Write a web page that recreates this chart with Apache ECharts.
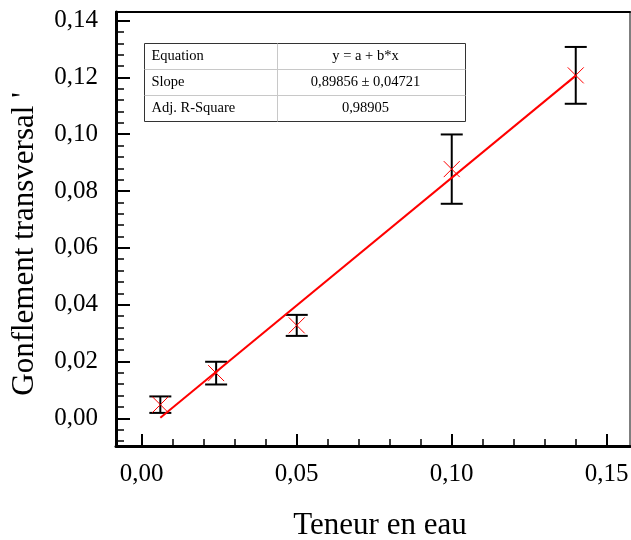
<!DOCTYPE html>
<html><head><meta charset="utf-8">
<script src="https://cdn.jsdelivr.net/npm/echarts@6/dist/echarts.min.js"></script>
<style>html,body{margin:0;padding:0;background:#fff}#c{width:631px;height:540px}</style>
</head><body><div id="c"></div>
<script>
// ---- data ----
const xValues = [0.006, 0.024, 0.05, 0.10, 0.14];
const yValues = [0.0048, 0.0159, 0.0327, 0.0877, 0.1207];
const yErrors = [0.0029, 0.0040, 0.0037, 0.0122, 0.0100];
const fitX = [0.006, 0.14];
const fitY = [0.0002, 0.1206];
const xMajorTicks = [0, 0.05, 0.10, 0.15];
const xMinorTicks = [0.01, 0.02, 0.03, 0.04, 0.06, 0.07, 0.08, 0.09, 0.11, 0.12, 0.13, 0.14];
const yMajorTicks = [0, 0.02, 0.04, 0.06, 0.08, 0.10, 0.12, 0.14];
const yMinorTicks = [-0.008, -0.004, 0.004, 0.008, 0.012, 0.016, 0.024, 0.028, 0.032, 0.036,
  0.044, 0.048, 0.052, 0.056, 0.064, 0.068, 0.072, 0.076, 0.084, 0.088, 0.092, 0.096,
  0.104, 0.108, 0.112, 0.116, 0.124, 0.128, 0.132, 0.136];
const tableRows = [['Equation', 'y = a + b*x'], ['Slope', '0,89856 \u00b1 0,04721'], ['Adj. R-Square', '0,98905']];
const xTitle = 'Teneur en eau';
const yTitle = "Gonflement transversal '";

// ---- chart ----
const FONT = '"Liberation Serif", "Times New Roman", serif';
const X_MIN = -0.0083, X_MAX = 0.1575, Y_MIN = -0.00975, Y_MAX = 0.143;
const fmt = v => v.toFixed(2).replace('.', ',');

const chart = echarts.init(document.getElementById('c'), null, {renderer: 'canvas'});

const pointData = xValues.map((x, i) => [x, yValues[i], yErrors[i]]);

function baseX(extra) {
  return Object.assign({type: 'value', min: X_MIN, max: X_MAX, gridIndex: 0,
    splitLine: {show: false}, axisLabel: {show: false}, axisTick: {show: false},
    axisLine: {show: false, onZero: false}}, extra);
}
function baseY(extra) {
  return Object.assign({type: 'value', min: Y_MIN, max: Y_MAX, gridIndex: 0,
    splitLine: {show: false}, axisLabel: {show: false}, axisTick: {show: false},
    axisLine: {show: false, onZero: false}}, extra);
}

const tableLeft = 142, tableTop = 41, tableW = 321, rowH = 26, col1 = 133;
const tableChildren = [
  {type: 'rect', shape: {x: 0, y: 0, width: tableW, height: rowH * 3}, style: {fill: '#fff', stroke: '#333', lineWidth: 1}},
  {type: 'line', shape: {x1: 0, y1: rowH, x2: tableW, y2: rowH}, style: {stroke: '#c8c8c8', lineWidth: 1}},
  {type: 'line', shape: {x1: 0, y1: rowH * 2, x2: tableW, y2: rowH * 2}, style: {stroke: '#c8c8c8', lineWidth: 1}},
  {type: 'line', shape: {x1: col1, y1: 0, x2: col1, y2: rowH * 3}, style: {stroke: '#c8c8c8', lineWidth: 1}}
];
tableRows.forEach((r, i) => {
  tableChildren.push({type: 'text', x: 7, y: rowH * i + rowH / 2,
    style: {text: r[0], font: '14.5px ' + FONT, fill: '#000', verticalAlign: 'middle', align: 'left'}});
  tableChildren.push({type: 'text', x: col1 + 88, y: rowH * i + rowH / 2,
    style: {text: r[1], font: '14.5px ' + FONT, fill: '#000', verticalAlign: 'middle', align: 'center'}});
});

chart.setOption({
  animation: false,
  backgroundColor: '#fff',
  grid: {left: 116, right: 1, top: 12, bottom: 94, containLabel: false, outerBoundsMode: 'none'},
  xAxis: [
    baseX({position: 'bottom', name: xTitle, nameLocation: 'middle', nameGap: 64,
      nameTextStyle: {fontFamily: FONT, fontSize: 31, color: '#000', padding: [0, 0, 0, 14]},
      axisLine: {show: true, onZero: false, lineStyle: {color: '#000', width: 3}},
      axisTick: {show: true, inside: true, length: 12, customValues: xMajorTicks, lineStyle: {color: '#000', width: 2}},
      axisLabel: {show: true, customValues: xMajorTicks, formatter: fmt, margin: 16,
        fontFamily: FONT, fontSize: 25, color: '#000'}}),
    baseX({position: 'bottom',
      axisTick: {show: true, inside: true, length: 7, customValues: xMinorTicks, lineStyle: {color: '#000', width: 1.5}}}),
    baseX({position: 'top', axisLine: {show: true, onZero: false, lineStyle: {color: '#000', width: 2}}})
  ],
  yAxis: [
    baseY({position: 'left', name: yTitle, nameLocation: 'middle', nameGap: 76, nameRotate: 90,
      nameTextStyle: {fontFamily: FONT, fontSize: 31, color: '#000', padding: [0, 30, 0, 0]},
      axisLine: {show: true, onZero: false, lineStyle: {color: '#000', width: 3}},
      axisTick: {show: true, inside: true, length: 14, customValues: yMajorTicks, lineStyle: {color: '#000', width: 2}},
      axisLabel: {show: true, customValues: yMajorTicks, formatter: fmt, margin: 18,
        fontFamily: FONT, fontSize: 25, color: '#000'}}),
    baseY({position: 'left',
      axisTick: {show: true, inside: true, length: 8, customValues: yMinorTicks, lineStyle: {color: '#000', width: 1.5}}}),
    baseY({position: 'right', axisLine: {show: true, onZero: false, lineStyle: {color: '#555', width: 1.5}}})
  ],
  graphic: [{type: 'group', left: tableLeft, top: tableTop, z: 100, children: tableChildren}],
  series: [
    {
      type: 'custom', name: 'errors', xAxisIndex: 0, yAxisIndex: 0, z: 2, clip: false,
      data: pointData,
      renderItem(params, api) {
        const x = api.value(0), y = api.value(1), e = api.value(2);
        const t = api.coord([x, y + e]), b = api.coord([x, y - e]);
        const cw = 11;
        const st = {stroke: '#000', lineWidth: 2};
        return {type: 'group', children: [
          {type: 'line', shape: {x1: t[0], y1: t[1], x2: b[0], y2: b[1]}, style: st},
          {type: 'line', shape: {x1: t[0] - cw, y1: t[1], x2: t[0] + cw, y2: t[1]}, style: st},
          {type: 'line', shape: {x1: b[0] - cw, y1: b[1], x2: b[0] + cw, y2: b[1]}, style: st}
        ]};
      }
    },
    {
      type: 'line', name: 'fit', xAxisIndex: 0, yAxisIndex: 0, z: 3,
      data: fitX.map((x, i) => [x, fitY[i]]),
      showSymbol: false, symbol: 'none',
      lineStyle: {color: '#ff0000', width: 2}
    },
    {
      type: 'custom', name: 'points', xAxisIndex: 0, yAxisIndex: 0, z: 4, clip: false,
      data: pointData,
      renderItem(params, api) {
        const p = api.coord([api.value(0), api.value(1)]);
        const h = 8;
        const st = {stroke: '#ff0000', lineWidth: 1};
        return {type: 'group', children: [
          {type: 'line', shape: {x1: p[0] - h, y1: p[1] - h, x2: p[0] + h, y2: p[1] + h}, style: st},
          {type: 'line', shape: {x1: p[0] - h, y1: p[1] + h, x2: p[0] + h, y2: p[1] - h}, style: st}
        ]};
      }
    }
  ]
});
</script>
</body></html>
